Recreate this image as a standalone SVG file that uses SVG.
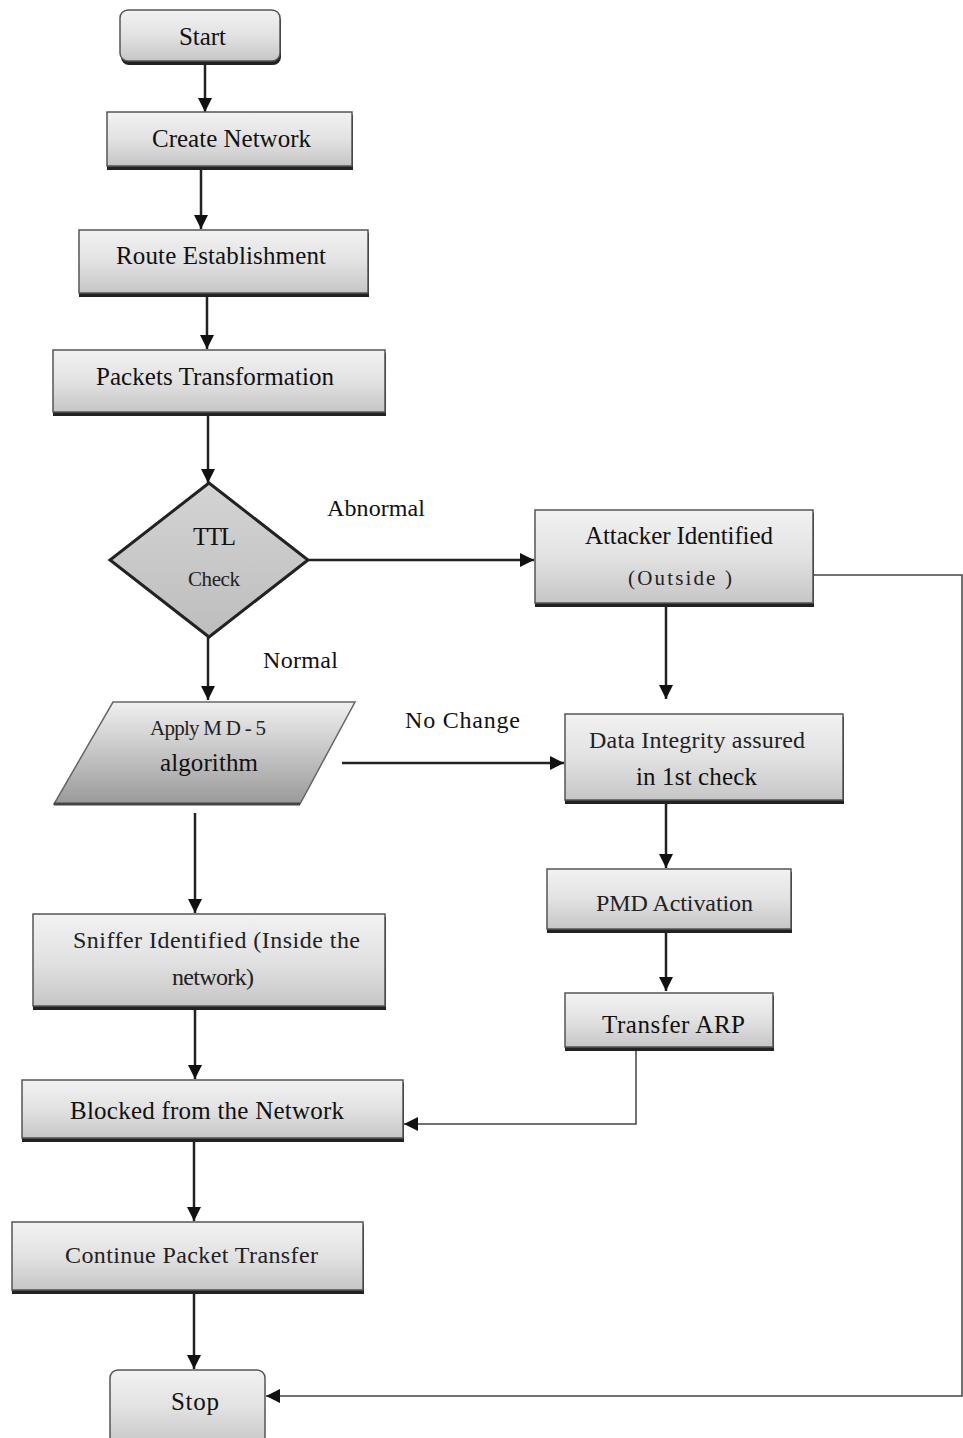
<svg xmlns="http://www.w3.org/2000/svg" width="963" height="1438" viewBox="0 0 963 1438">
<defs>
<linearGradient id="g" x1="0" y1="0" x2="0" y2="1">
<stop offset="0" stop-color="#f2f2f2"/>
<stop offset="0.5" stop-color="#e2e2e2"/>
<stop offset="1" stop-color="#c6c6c6"/>
</linearGradient>
<linearGradient id="gp" x1="0" y1="0" x2="0" y2="1">
<stop offset="0" stop-color="#f0f0f0"/>
<stop offset="1" stop-color="#9a9a9a"/>
</linearGradient>
<linearGradient id="gd" x1="0" y1="0" x2="0" y2="1">
<stop offset="0" stop-color="#d4d4d4"/>
<stop offset="1" stop-color="#bdbdbd"/>
</linearGradient>
<marker id="arr" viewBox="0 0 10 10" refX="10" refY="5" markerWidth="14" markerHeight="14" markerUnits="userSpaceOnUse" orient="auto">
<path d="M0,0 L10,5 L0,10 z" fill="#111"/>
</marker>
</defs>
<style>
.box{fill:url(#g);stroke:#555;stroke-width:1.5}
.sh{fill:#222}
.t{font-family:"Liberation Serif","Times New Roman",serif;font-size:25px;fill:#111}
.ts{font-family:"Liberation Serif","Times New Roman",serif;font-size:24px;fill:#222}
.sm{font-family:"Liberation Serif","Times New Roman",serif;font-size:21px;fill:#222}
.lbl{font-family:"Liberation Serif","Times New Roman",serif;font-size:24px;fill:#111}
.c{fill:none;stroke:#222;stroke-width:2.5}
.cr{fill:none;stroke:#444;stroke-width:1.5}
</style>
<rect width="963" height="1438" fill="#ffffff"/>

<g id="connectors">
<line class="c" x1="205" y1="62" x2="205" y2="112" marker-end="url(#arr)"/>
<line class="c" x1="201" y1="168" x2="201" y2="229" marker-end="url(#arr)"/>
<line class="c" x1="207" y1="296" x2="207" y2="349" marker-end="url(#arr)"/>
<line class="c" x1="208" y1="415" x2="208" y2="483" marker-end="url(#arr)"/>
<line class="c" x1="208" y1="637" x2="208" y2="700" marker-end="url(#arr)"/>
<line class="c" x1="308" y1="560" x2="534" y2="560" marker-end="url(#arr)"/>
<line class="c" x1="666" y1="606" x2="666" y2="699" marker-end="url(#arr)"/>
<line class="c" x1="342" y1="763" x2="564" y2="763" marker-end="url(#arr)"/>
<line class="c" x1="666" y1="803" x2="666" y2="868" marker-end="url(#arr)"/>
<line class="c" x1="666" y1="932" x2="666" y2="991" marker-end="url(#arr)"/>
<polyline class="cr" points="636,1050 636,1124 404,1124" marker-end="url(#arr)"/>
<line class="c" x1="195" y1="813" x2="195" y2="913" marker-end="url(#arr)"/>
<line class="c" x1="195" y1="1009" x2="195" y2="1079" marker-end="url(#arr)"/>
<line class="c" x1="194" y1="1141" x2="194" y2="1221" marker-end="url(#arr)"/>
<line class="c" x1="194" y1="1293" x2="194" y2="1369" marker-end="url(#arr)"/>
<polyline class="cr" points="814,575 962,575 962,1396 266,1396" marker-end="url(#arr)"/>
</g>

<g id="labels">
<text class="lbl" x="327" y="516" textLength="98" lengthAdjust="spacing">Abnormal</text>
<text class="lbl" x="263" y="668" textLength="75" lengthAdjust="spacing">Normal</text>
<text class="lbl" x="405" y="728" textLength="115" lengthAdjust="spacing">No Change</text>
</g>

<g id="start">
<rect x="121" y="13" width="160" height="52" rx="8" class="sh"/>
<rect x="120" y="10" width="160" height="51" rx="8" class="box"/>
<text class="t" x="179" y="45" textLength="47" lengthAdjust="spacing">Start</text>
</g>

<g id="create-network">
<rect x="107" y="115" width="246" height="55" class="sh"/>
<rect x="107" y="112" width="245" height="54" class="box"/>
<text class="t" x="152" y="147" textLength="159" lengthAdjust="spacing">Create  Network</text>
</g>

<g id="route-establishment">
<rect x="79" y="233" width="290" height="64" class="sh"/>
<rect x="79" y="230" width="289" height="63" class="box"/>
<text class="t" x="116" y="264" textLength="210" lengthAdjust="spacing">Route Establishment</text>
</g>

<g id="packets-transformation">
<rect x="53" y="353" width="333" height="63" class="sh"/>
<rect x="53" y="350" width="332" height="62" class="box"/>
<text class="t" x="96" y="385" textLength="238" lengthAdjust="spacing">Packets  Transformation</text>
</g>

<g id="ttl-check">
<polygon points="209,483 308,560 209,637 110,560" fill="url(#gd)" stroke="#222" stroke-width="3"/>
<text class="t" x="193" y="545" textLength="43" lengthAdjust="spacing">TTL</text>
<text class="sm" x="188" y="586" textLength="52" lengthAdjust="spacing">Check</text>
</g>

<g id="attacker-identified">
<rect x="535" y="513" width="279" height="94" class="sh"/>
<rect x="535" y="510" width="278" height="93" class="box"/>
<text class="t" x="585" y="544" textLength="188" lengthAdjust="spacing">Attacker  Identified</text>
<text class="sm" x="628" y="585" textLength="104" lengthAdjust="spacing">(Outside   )</text>
</g>

<g id="apply-md5">
<polygon points="113,702 355,702 300,804 54,804" fill="url(#gp)" stroke="#666" stroke-width="1.5"/>
<line x1="54" y1="804" x2="300" y2="804" stroke="#444" stroke-width="3"/>
<text class="sm" x="150" y="735" textLength="116" lengthAdjust="spacing">Apply M D - 5</text>
<text class="t" x="160" y="771" textLength="98" lengthAdjust="spacing">algorithm</text>
</g>

<g id="data-integrity">
<rect x="565" y="717" width="279" height="87" class="sh"/>
<rect x="565" y="714" width="278" height="86" class="box"/>
<text class="ts" x="589" y="748" textLength="216" lengthAdjust="spacing">Data  Integrity   assured</text>
<text class="t" x="636" y="785" textLength="121" lengthAdjust="spacing">in 1st check</text>
</g>

<g id="pmd-activation">
<rect x="547" y="872" width="245" height="61" class="sh"/>
<rect x="547" y="869" width="244" height="60" class="box"/>
<text class="ts" x="596" y="911" textLength="157" lengthAdjust="spacing">PMD   Activation</text>
</g>

<g id="transfer-arp">
<rect x="565" y="996" width="209" height="55" class="sh"/>
<rect x="565" y="993" width="208" height="54" class="box"/>
<text class="t" x="602" y="1033" textLength="143" lengthAdjust="spacing">Transfer  ARP</text>
</g>

<g id="sniffer-identified">
<rect x="33" y="917" width="353" height="93" class="sh"/>
<rect x="33" y="914" width="352" height="92" class="box"/>
<text class="ts" x="73" y="948" textLength="287" lengthAdjust="spacing">Sniffer  Identified  (Inside   the</text>
<text class="ts" x="172" y="985" textLength="82" lengthAdjust="spacing">network)</text>
</g>

<g id="blocked">
<rect x="22" y="1083" width="382" height="59" class="sh"/>
<rect x="22" y="1080" width="381" height="58" class="box"/>
<text class="t" x="70" y="1119" textLength="274" lengthAdjust="spacing">Blocked  from  the Network</text>
</g>

<g id="continue-packet-transfer">
<rect x="12" y="1225" width="352" height="69" class="sh"/>
<rect x="12" y="1222" width="351" height="68" class="box"/>
<text class="ts" x="65" y="1263" textLength="253" lengthAdjust="spacing">Continue   Packet   Transfer</text>
</g>

<g id="stop">
<rect x="110" y="1370" width="155" height="75" rx="8" class="box"/>
<text class="t" x="171" y="1410" textLength="48" lengthAdjust="spacing">Stop</text>
</g>
</svg>
